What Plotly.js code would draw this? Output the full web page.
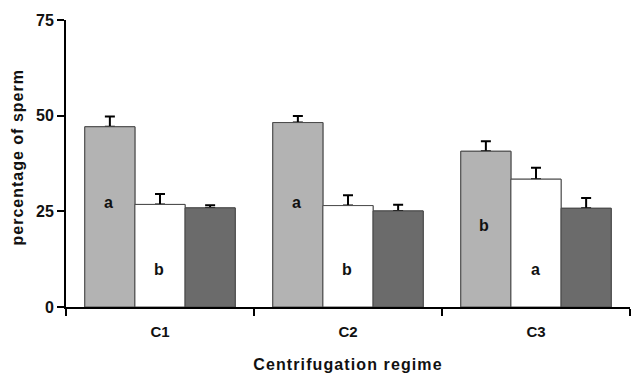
<!DOCTYPE html>
<html>
<head>
<meta charset="utf-8">
<script src="https://cdn.plot.ly/plotly-3.0.1.min.js"></script>
<style>
  html, body { margin: 0; padding: 0; background: #ffffff; }
  #chart { width: 632px; height: 375px; }
  #chart .xtitle { letter-spacing: 1.1px; }
</style>
</head>
<body>
<div id="chart"></div>
<script>
// ---- data ----
const categories = ['C1', 'C2', 'C3'];
const grayValues = [47.1, 48.2, 40.7];
const grayErrors = [2.7, 1.7, 2.6];
const whiteValues = [26.8, 26.5, 33.4];
const whiteErrors = [2.7, 2.7, 3.0];
const darkValues = [25.9, 25.1, 25.8];
const darkErrors = [0.7, 1.6, 2.7];
const grayLetters = ['a', 'a', 'b'];
const grayLetterY = [27.4, 27.4, 21.2];
const whiteLetters = ['b', 'b', 'a'];
const whiteLetterY = [9.7, 9.7, 9.7];
const yTicks = [0, 25, 50, 75];

const FONT = 'Liberation Sans, Arial, Helvetica, sans-serif';
const colors = ['#b3b3b3', '#ffffff', '#6b6b6b'];
const series = [
  { vals: grayValues, errs: grayErrors },
  { vals: whiteValues, errs: whiteErrors },
  { vals: darkValues, errs: darkErrors }
];

const traces = [];
// bottom layer: bars carrying one-sided (upward) error bars
series.forEach((s, i) => {
  traces.push({
    type: 'bar', x: categories, y: s.vals, xaxis: 'x', yaxis: 'y',
    marker: { color: colors[i], line: { color: '#4a4a4a', width: 1 } },
    error_y: {
      type: 'data', array: s.errs, arrayminus: s.errs.map(() => 0),
      symmetric: false, color: '#000000', thickness: 2, width: 5
    },
    showlegend: false, hoverinfo: 'skip'
  });
});
// top layer: same bars again, hiding the lower cap of each error bar
series.forEach((s, i) => {
  traces.push({
    type: 'bar', x: categories, y: s.vals, xaxis: 'x2', yaxis: 'y2',
    marker: { color: colors[i], line: { color: '#4a4a4a', width: 1 } },
    showlegend: false, hoverinfo: 'x+y'
  });
});

const annotations = [];
categories.forEach((c, i) => {
  annotations.push({
    x: c, y: grayLetterY[i], xref: 'x', yref: 'y', xshift: -52,
    text: grayLetters[i], showarrow: false,
    font: { family: FONT, size: 16, color: '#111', weight: 'bold' }
  });
  annotations.push({
    x: c, y: whiteLetterY[i], xref: 'x', yref: 'y', xshift: -1,
    text: whiteLetters[i], showarrow: false,
    font: { family: FONT, size: 16, color: '#111', weight: 'bold' }
  });
});
annotations.push({
  xref: 'paper', yref: 'paper', x: -0.086, y: 0.521,
  xanchor: 'center', yanchor: 'middle', textangle: -90,
  text: 'percentage of sperm', showarrow: false,
  font: { family: FONT, size: 16, color: '#111', weight: 'bold' }
});

const layout = {
  width: 632, height: 375,
  margin: { l: 66, r: 2, t: 20, b: 68 },
  paper_bgcolor: '#ffffff', plot_bgcolor: '#ffffff',
  barmode: 'group', bargap: 0.2, bargroupgap: 0,
  font: { family: FONT, color: '#111' },
  xaxis: {
    type: 'category', range: [-0.5, 2.5],
    showline: true, linecolor: '#000', linewidth: 2,
    ticks: 'outside', tickson: 'boundaries', ticklen: 7, tickwidth: 2, tickcolor: '#000',
    ticklabelstandoff: 10,
    tickfont: { family: FONT, size: 15, color: '#111', weight: 'bold' },
    showgrid: false, zeroline: false,
    title: { text: 'Centrifugation regime', standoff: 20,
             font: { family: FONT, size: 16, color: '#111', weight: 'bold' } }
  },
  yaxis: {
    range: [0, 75], tickvals: yTicks, ticktext: yTicks.map(String),
    showline: true, linecolor: '#000', linewidth: 2,
    ticks: 'outside', ticklen: 7, tickwidth: 2, tickcolor: '#000',
    tickfont: { family: FONT, size: 16, color: '#111', weight: 'bold' },
    showgrid: false, zeroline: false
  },
  xaxis2: { type: 'category', overlaying: 'x', range: [-0.5, 2.5], visible: false },
  yaxis2: { overlaying: 'y', range: [0, 75], visible: false },
  annotations: annotations
};

Plotly.newPlot('chart', traces, layout, { displayModeBar: false, staticPlot: true }).then(() => {
  const yt = document.querySelector('#chart .annotation[data-index="6"] text');
  if (yt) yt.style.letterSpacing = '1px';
});
</script>
</body>
</html>
